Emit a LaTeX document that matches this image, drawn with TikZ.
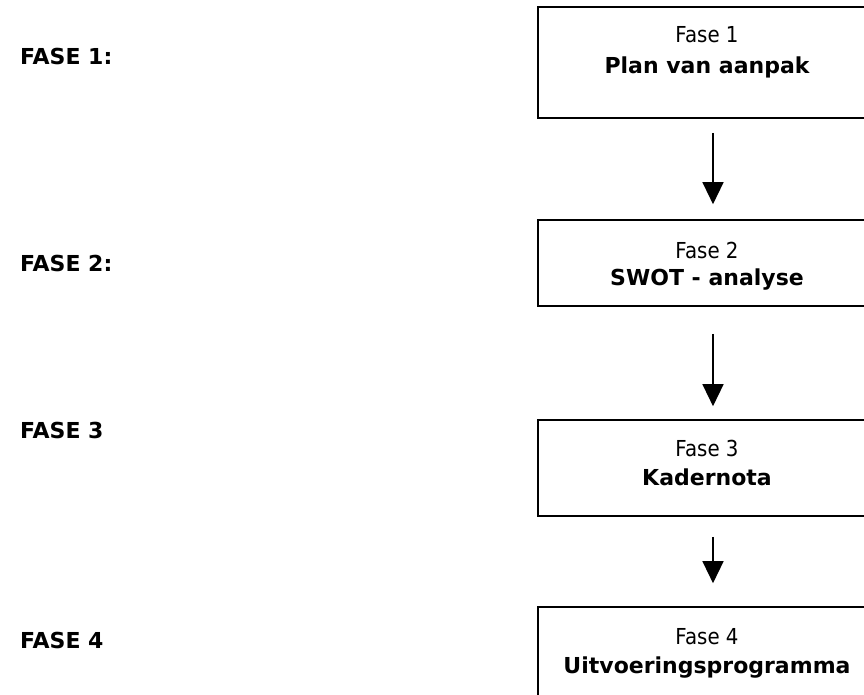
\documentclass[tikz,border=0pt]{standalone}
\usepackage{fontspec}
\setmainfont{DejaVu Sans}
\newfontfamily\regfont[FakeStretch=0.9]{DejaVu Sans}
\usetikzlibrary{arrows.meta}
\tikzset{
  phasebox/.style={draw, line width=1.6pt, rectangle, minimum width=338pt, inner sep=0pt},
  lbl/.style={anchor=base west, inner sep=0pt, font=\fontsize{22}{26}\selectfont\bfseries},
  fasetxt/.style={anchor=base, inner sep=0pt, font=\fontsize{22}{26}\selectfont\regfont},
  titletxt/.style={anchor=base, inner sep=0pt, font=\fontsize{22}{26}\selectfont\bfseries},
  arr/.style={line width=1.3pt, -{Triangle[width=21pt,length=22pt]}}
}
\begin{document}
\begin{tikzpicture}[x=1pt,y=-1pt]
\useasboundingbox (0,0) rectangle (864,695);
\clip (0,0) rectangle (864,695);
\coordinate (ax) at (713,0);
% boxes
\node[phasebox, minimum height=111pt] (b1) at (707,62.5) {};
\node[phasebox, minimum height=86pt] (b2) at (707,263) {};
\node[phasebox, minimum height=96pt] (b3) at (707,468) {};
\node[phasebox, minimum height=120pt] (b4) at (707,667) {};
% box texts
\node[fasetxt] (f1) at (707,43) {Fase 1};
\node[titletxt] (t1) at (707,74) {Plan van aanpak};
\node[fasetxt] (f2) at (707,258) {Fase 2};
\node[titletxt] (t2) at (707,285) {SWOT - analyse};
\node[fasetxt] (f3) at (707,456) {Fase 3};
\node[titletxt] (t3) at (707,485) {Kadernota};
\node[fasetxt] (f4) at (707,644) {Fase 4};
\node[titletxt] (t4) at (707,673) {Uitvoeringsprogramma};
% left labels
\node[lbl] (l1) at (20,65) {FASE 1:};
\node[lbl] (l2) at (20,271) {FASE 2:};
\node[lbl] (l3) at (20,438) {FASE 3};
\node[lbl] (l4) at (20,648) {FASE 4};
% arrows
\draw[arr, shorten <=14pt, shorten >=15pt] (b1.south -| ax) -- (b2.north -| ax);
\draw[arr, shorten <=27pt, shorten >=13pt] (b2.south -| ax) -- (b3.north -| ax);
\draw[arr, shorten <=20pt, shorten >=23pt] (b3.south -| ax) -- (b4.north -| ax);
\end{tikzpicture}
\end{document}
